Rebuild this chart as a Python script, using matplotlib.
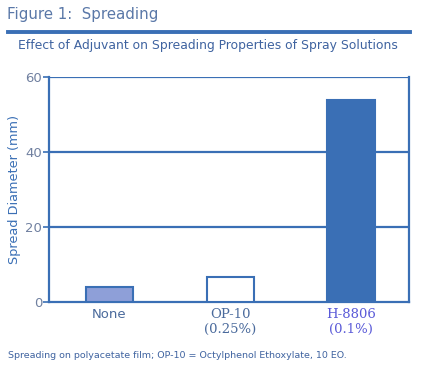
import numpy as np
import matplotlib
matplotlib.use('agg')
import matplotlib.pyplot as plt

# data
labels = ['None', 'OP-10\n(0.25%)', 'H-8806\n(0.1%)']
spread = [4.0, 6.8, 54.0]
yticks = [0, 20, 40, 60]

blue = '#3a6fb5'
txt = '#4a6a9c'

fig = plt.figure(figsize=(4.25, 3.76), dpi=100)
W, H = 425., 376.
ax = fig.add_axes([49/W, 1-302/H, (409-49)/W, (302-77)/H])

x = np.arange(len(labels))
faces = ['#8e9fd8', 'white', blue]
ax.bar(x, spread, width=0.39, color=faces, edgecolor=blue, linewidth=1.5, zorder=3)

ax.set_xlim(-0.5, 2.48)
ax.set_ylim(0, 60)
ax.set_yticks(yticks)
for t in yticks[1:]:
    ax.axhline(t, color=blue, lw=1.6, zorder=1)
for s in ['left', 'bottom', 'right']:
    ax.spines[s].set_color(blue)
    ax.spines[s].set_linewidth(1.6)
ax.spines['top'].set_visible(False)
ax.tick_params(axis='y', colors=blue, labelcolor='#7080a0', length=4, width=1.2, labelsize=9.5, pad=1)
ax.tick_params(axis='x', length=0, pad=4)
ax.set_xticks(x)
ax.set_xticklabels(labels)
tl = ax.get_xticklabels()
tl[0].set_fontsize(9.5); tl[0].set_color(txt)
tl[1].set_fontsize(9.5); tl[1].set_color(txt); tl[1].set_family('DejaVu Serif')
tl[2].set_fontsize(9.5); tl[2].set_color('#5a5ad8'); tl[2].set_family('DejaVu Serif')
ax.set_ylabel('Spread Diameter (mm)', color=blue, fontsize=9.3, labelpad=3)

fig.text(7/W, 1-14/H, 'Figure 1:  Spreading', color='#5a78a8', fontsize=10.8, va='center', ha='left')
fig.add_artist(plt.Line2D([8/W, 410/W], [1-32/H, 1-32/H], color=blue, lw=2.8))
fig.text(208/W, 1-46/H, 'Effect of Adjuvant on Spreading Properties of Spray Solutions',
         color='#3f63a0', fontsize=8.9, va='center', ha='center')
fig.text(8/W, 1-356/H, 'Spreading on polyacetate film; OP-10 = Octylphenol Ethoxylate, 10 EO.',
         color='#3f63a0', fontsize=6.8, va='center', ha='left')

fig.savefig('out.png', dpi=100)
